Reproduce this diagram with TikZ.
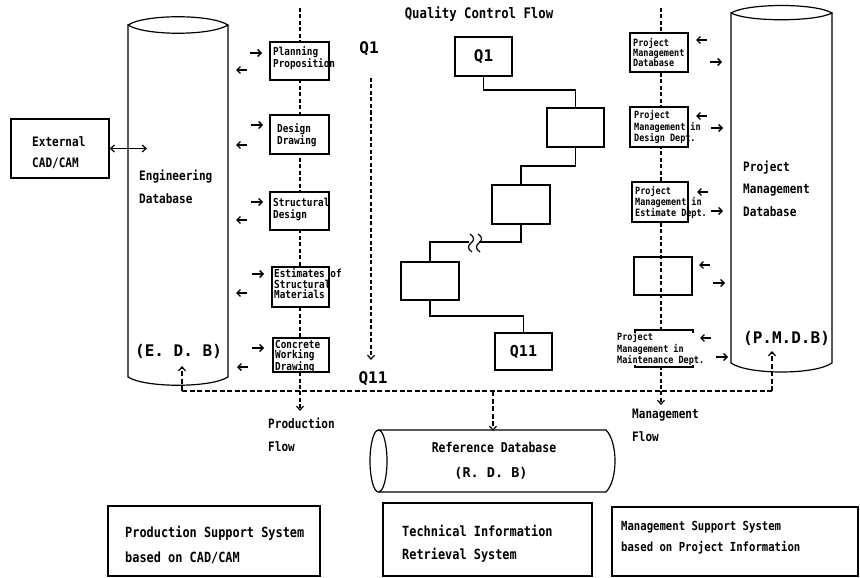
\documentclass[tikz,border=0pt]{standalone}
\usepackage{fontspec}
\setmonofont[FakeStretch=0.85]{DejaVu Sans Mono}
\newfontfamily\widemono{DejaVu Sans Mono}
\usetikzlibrary{arrows.meta}
\begin{document}
\begin{tikzpicture}[x=1pt,y=-1pt]
\tikzset{
  ln/.style={line width=1.2pt},
  bx/.style={draw, line width=1.2pt, fill=white, inner sep=0pt},
  flowv/.style={line width=1.5pt, dash pattern=on 4pt off 2.5pt},
  flowh/.style={line width=1.3pt, dash pattern=on 5pt off 2.5pt},
  tip/.style={-{Straight Barb[length=4pt,width=7pt,line width=1.2pt]}},
  stip/.style={line width=1.3pt, -{Straight Barb[length=3.5pt,width=7pt,line width=1.3pt]}},
  dtip/.style={{Straight Barb[length=4pt,width=7pt,line width=1.2pt]}-{Straight Barb[length=4pt,width=7pt,line width=1.2pt]}},
  txt/.style={inner sep=0pt, anchor=west, align=left, font=\ttfamily\bfseries\fontsize{13}{23}\selectfont},
  ptxt/.style={inner sep=0pt, anchor=west, align=left, font=\ttfamily\bfseries\fontsize{11}{10.5}\selectfont},
  mtxt/.style={inner sep=0pt, anchor=west, align=left, font=\ttfamily\bfseries\fontsize{10}{10}\selectfont},
  big/.style={inner sep=0pt, font=\widemono\bfseries\fontsize{16}{18}\selectfont},
}
\useasboundingbox (0,0) rectangle (860,578);

% ---------- Engineering Database cylinder ----------
\draw[ln] (128,25) .. controls (145,14) and (211,14) .. (228,25)
          .. controls (211,36) and (145,36) .. (128,25)
          -- (128,377) .. controls (145,388) and (211,388) .. (228,377) -- (228,25);
\node[txt] (edbname) at (139,186.5) {Engineering\\Database};
\node[big, anchor=west] (edblbl) at (135,351) {(E. D. B)};

% ---------- External CAD/CAM ----------
\node[bx, minimum width=98pt, minimum height=59pt] (ext) at (60,148.5) {};
\node[txt, font=\ttfamily\bfseries\fontsize{13}{21}\selectfont] (exttxt) at (32,152.5) {External\\CAD/CAM};
\coordinate (edbin) at (147,148.5);
\draw[ln, dtip] (ext.east) -- (edbin);

% ---------- Production flow ----------
\coordinate (ptop) at (300,8);
\coordinate (pjoin) at (300,391);
\coordinate (pend) at (300,411);
\draw[flowv] (ptop) -- (pjoin);
\draw[flowv, tip] (pjoin) -- (pend);

\node[bx, minimum width=59pt, minimum height=38pt] (pp) at (299.5,61) {};
\node[ptxt] (ppt) at (273,58) {Planning\\Proposition};
\node[bx, minimum width=59pt, minimum height=39pt] (pd) at (299.5,134.5) {};
\node[ptxt] (pdt) at (277,135) {Design\\Drawing};
\node[bx, minimum width=59pt, minimum height=38pt] (ps) at (299.5,211) {};
\node[ptxt, font=\ttfamily\bfseries\fontsize{11}{12}\selectfont] (pst) at (273,209) {Structural\\Design};
\node[bx, minimum width=57pt, minimum height=40pt] (pe) at (300.5,287) {};
\node[ptxt] (pet) at (274,284) {Estimates of\\Structural\\Materials};
\node[bx, minimum width=56pt, minimum height=34pt] (pc) at (301,355) {};
\node[ptxt] (pct) at (275,356.5) {Concrete\\Working\\Drawing};

% small in/out arrows, production side (right-pointing upper, left-pointing lower)
\foreach \i/\xa/\ya/\xb/\yb in {1/256/53/242/70, 2/257/125/242/145, 3/257/202/242/220, 4/258/274/242/293, 5/258/348/243/367}{
  \coordinate (pin\i s) at (\xa-6,\ya);  \coordinate (pin\i e) at (\xa+6,\ya);
  \coordinate (pout\i s) at (\xb+5,\yb); \coordinate (pout\i e) at (\xb-6,\yb);
  \draw[stip] (pin\i s) -- (pin\i e);
  \draw[stip] (pout\i s) -- (pout\i e);
}

\node[inner sep=0pt, font=\ttfamily\bfseries\fontsize{13}{23}\selectfont, anchor=west, align=left] (pflow) at (268,435) {Production\\Flow};

% ---------- Q1 ... Q11 ----------
\node[big] (q1lbl) at (369,49) {Q1};
\coordinate (qtop) at (371,78);
\coordinate (qend) at (371,360);
\draw[flowv, tip] (qtop) -- (qend);
\node[big] (q11lbl) at (373,379) {Q11};

% ---------- Quality control flow ----------
\node[inner sep=0pt, font=\ttfamily\bfseries\fontsize{14.5}{16}\selectfont] (qctitle) at (479,14) {Quality Control Flow};
\node[bx, minimum width=57pt, minimum height=39pt, font=\widemono\bfseries\fontsize{16}{18}\selectfont] (q1) at (483.5,56.5) {Q1};
\node[bx, minimum width=57pt, minimum height=39pt] (q2) at (575.5,127.5) {};
\node[bx, minimum width=58pt, minimum height=39pt] (q3) at (521,204.5) {};
\node[bx, minimum width=58pt, minimum height=38pt] (q4) at (430,281) {};
\node[bx, minimum width=57pt, minimum height=37pt, font=\widemono\bfseries\fontsize{15}{18}\selectfont] (q11) at (523.5,351.5) {Q11};

\draw[ln] (q1.south) -- (q1.south |- 0,90) -| (q2.north);
\draw[ln] (q2.south) -- (q2.south |- 0,166) -| (q3.north);
\draw[ln] (q3.south) -- (q3.south |- 0,242) -- (479,242);
\draw[ln] (469,242) -| (q4.north);
\draw[ln] (q4.south) -- (q4.south |- 0,316) -| (q11.north);
% break marks
\foreach \xc in {471,479}{
  \draw[ln] (\xc-1,234) .. controls (\xc+4,237) and (\xc+3,241) .. (\xc,243)
            .. controls (\xc-3,245) and (\xc-4,249) .. (\xc+1,252);
}

% ---------- Management flow ----------
\coordinate (mtop) at (661,8);
\coordinate (mjoin) at (661,391);
\coordinate (mend) at (661,405);
\draw[flowv] (mtop) -- (mjoin);
\draw[flowv, tip] (mjoin) -- (mend);

\node[bx, minimum width=58pt, minimum height=39pt] (m1) at (659,52.5) {};
\node[mtxt] (m1t) at (633,53) {Project\\Management\\Database};
\node[bx, minimum width=58pt, minimum height=40pt] (m2) at (659,127) {};
\node[mtxt] (m2t) at (634,127) {Project\\Management in\\Design Dept.};
\node[bx, minimum width=56pt, minimum height=40pt] (m3) at (660,202) {};
\node[mtxt] (m3t) at (635,202.5) {Project\\Management in\\Estimate Dept.};
\node[draw, line width=1.2pt, inner sep=0pt, minimum width=58pt, minimum height=38pt] (m4) at (663,276) {};
\node[bx, minimum width=58pt, minimum height=37pt] (m5) at (664,348.5) {};
\node[mtxt, fill=white] (m5t) at (617,349) {Project\\Management in\\Maintenance Dept.};

% small in/out arrows, management side (left-pointing upper, right-pointing lower)
\foreach \i/\xb/\yb/\xa/\ya in {1/702/40/716/62, 2/702/116/717/128, 3/703/192/717/211, 4/705/265/719/283, 5/706/338/722/357}{
  \coordinate (mout\i s) at (\xb+5,\yb); \coordinate (mout\i e) at (\xb-6,\yb);
  \coordinate (min\i s) at (\xa-6,\ya);  \coordinate (min\i e) at (\xa+6,\ya);
  \draw[stip] (mout\i s) -- (mout\i e);
  \draw[stip] (min\i s) -- (min\i e);
}

\node[inner sep=0pt, font=\ttfamily\bfseries\fontsize{13}{23}\selectfont, anchor=west, align=left] (mflow) at (632,425.5) {Management\\Flow};

% ---------- Project Management Database cylinder ----------
\draw[ln] (731,13) .. controls (748,3) and (815,3) .. (832,13)
          .. controls (815,22) and (748,22) .. (731,13)
          -- (731,363) .. controls (748,375) and (815,375) .. (832,363) -- (832,13);
\node[txt, font=\ttfamily\bfseries\fontsize{13}{22.5}\selectfont] (pmdbname) at (743,188.5) {Project\\Management\\Database};
\node[big, anchor=west] (pmdblbl) at (743,338) {(P.M.D.B)};

% ---------- horizontal data link ----------
\coordinate (hl) at (182,391);
\coordinate (hr) at (772,391);
\coordinate (edbtip) at (182,366);
\coordinate (pmdbtip) at (772,351);
\coordinate (rjoin) at (493,391);
\coordinate (rtip) at (493,431);
\draw[flowh] (hl) -- (hr);
\draw[flowh, tip] (hl) -- (edbtip);
\draw[flowh, tip] (hr) -- (pmdbtip);
\draw[flowh, tip] (rjoin) -- (rtip);

% ---------- Reference Database cylinder ----------
\draw[ln] (378.5,461) ellipse [x radius=8.5, y radius=31];
\draw[ln] (378.5,430) -- (606,430) .. controls (618,442) and (618,480) .. (606,492) -- (378.5,492);
\node[inner sep=0pt, font=\ttfamily\bfseries\fontsize{13.5}{16}\selectfont] (rdbname) at (494,447) {Reference Database};
\node[inner sep=0pt, font=\widemono\bfseries\fontsize{13.5}{16}\selectfont] (rdblbl) at (491,473) {(R. D. B)};

% ---------- bottom system boxes ----------
\node[bx, minimum width=212pt, minimum height=70pt] (b1) at (214,541) {};
\node[txt, font=\ttfamily\bfseries\fontsize{14}{25}\selectfont] (b1t) at (125,544.5) {Production Support System\\based on CAD/CAM};
\node[bx, minimum width=209pt, minimum height=73pt] (b2) at (487.5,539.5) {};
\node[txt, font=\ttfamily\bfseries\fontsize{14}{23}\selectfont] (b2t) at (402,543.5) {Technical Information\\Retrieval System};
\node[bx, minimum width=246pt, minimum height=69pt] (b3) at (735,541.5) {};
\node[txt, font=\ttfamily\bfseries\fontsize{12.5}{21}\selectfont] (b3t) at (621,537.5) {Management Support System\\based on Project Information};
\end{tikzpicture}
\end{document}
